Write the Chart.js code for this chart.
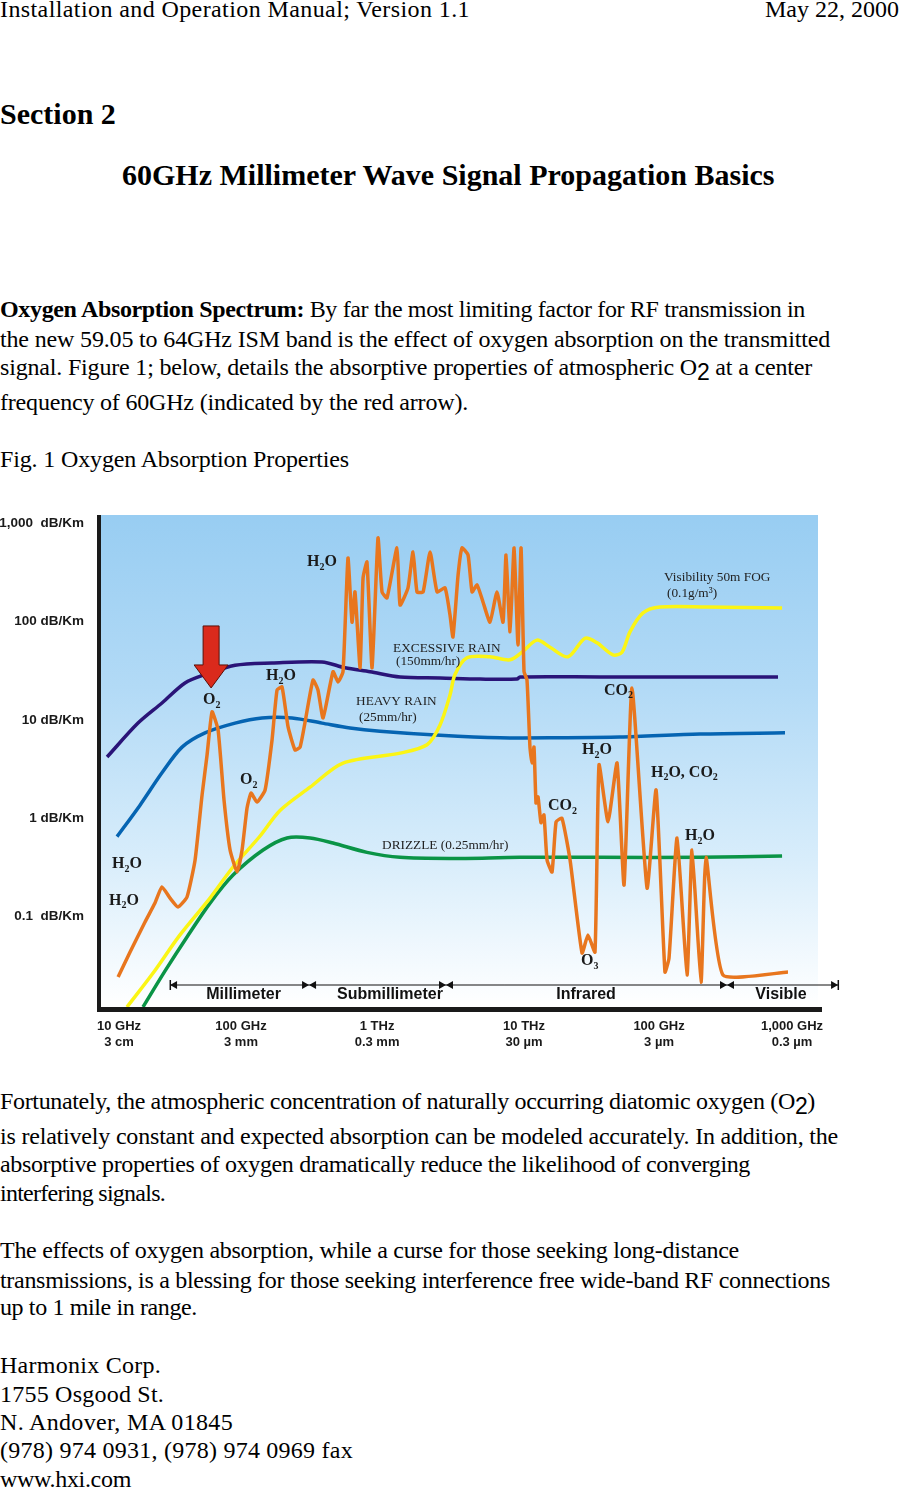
<!DOCTYPE html>
<html>
<head>
<meta charset="utf-8">
<title>60GHz Millimeter Wave Signal Propagation Basics</title>
<script src="https://cdn.jsdelivr.net/npm/chart.js@4.4.1/dist/chart.umd.min.js"></script>
<style>
  body { margin: 0; width: 899px; height: 1489px; position: relative; overflow: hidden;
         background: #fff; color: #000; font-family: "Liberation Serif", "Times New Roman", serif; }
  .ln { position: absolute; left: 0; font-size: 24px; line-height: 24px; white-space: nowrap; }
  .big { font-size: 30px; line-height: 30px; font-weight: bold; }
  .s2 { position: relative; top: 5px; font-family: "Liberation Sans", Arial, sans-serif; font-size: 23px; }
  #chartBox { position: absolute; left: 0; top: 505px; width: 899px; height: 560px; }
</style>
</head>
<body>

<div class="ln" data-w="470" style="top:-3px">Installation and Operation Manual; Version 1.1</div>
<div class="ln" style="top:-3px; left:auto; right:0">May 22, 2000</div>

<div class="ln big" style="top:99px">Section 2</div>
<div class="ln big" style="top:160px; left:122px">60GHz Millimeter Wave Signal Propagation Basics</div>

<div class="ln" data-w="805" style="top:297px"><b>Oxygen Absorption Spectrum:</b> By far the most limiting factor for RF transmission in</div>
<div class="ln" data-w="830" style="top:327px">the new 59.05 to 64GHz ISM band is the effect of oxygen absorption on the transmitted</div>
<div class="ln" data-w="812" style="top:355px">signal. Figure 1; below, details the absorptive properties of atmospheric O<span class="s2">2</span> at a center</div>
<div class="ln" data-w="468" style="top:390px">frequency of 60GHz (indicated by the red arrow).</div>
<div class="ln" data-w="349" style="top:447px">Fig. 1 Oxygen Absorption Properties</div>

<div id="chartBox"><canvas id="absChart" width="899" height="560"></canvas></div>

<div class="ln" data-w="815" style="top:1089px">Fortunately, the atmospheric concentration of naturally occurring diatomic oxygen (O<span class="s2">2</span>)</div>
<div class="ln" data-w="838" style="top:1124px">is relatively constant and expected absorption can be modeled accurately. In addition, the</div>
<div class="ln" data-w="750" style="top:1152px">absorptive properties of oxygen dramatically reduce the likelihood of converging</div>
<div class="ln" data-w="165" style="top:1181px">interfering signals.</div>
<div class="ln" data-w="739" style="top:1238px">The effects of oxygen absorption, while a curse for those seeking long-distance</div>
<div class="ln" data-w="830" style="top:1268px">transmissions, is a blessing for those seeking interference free wide-band RF connections</div>
<div class="ln" data-w="197" style="top:1295px">up to 1 mile in range.</div>
<div class="ln" data-w="161" style="top:1353px">Harmonix Corp.</div>
<div class="ln" data-w="164" style="top:1382px">1755 Osgood St.</div>
<div class="ln" data-w="233" style="top:1410px">N. Andover, MA 01845</div>
<div class="ln" data-w="353" style="top:1438px">(978) 974 0931, (978) 974 0969 fax</div>
<div class="ln" data-w="131" style="top:1467px">www.hxi.com</div>

<script>
/* stretch or squeeze each text line to the width it has on the page */
document.querySelectorAll('.ln[data-w]').forEach(el => {
    const w = el.getBoundingClientRect().width;
    const n = el.textContent.length;
    el.style.letterSpacing = ((+el.dataset.w - w) / n) + 'px';
});

/* Axis ticks. x is in "decades" along the band axis, 10 GHz = 1 */
const xTicks = [1, 1.906, 2.917, 4.009, 5.012, 6];
const xTickLabels = [
    ['10 GHz', '3 cm'],
    ['100 GHz', '3 mm'],
    ['1 THz', '0.3 mm'],
    ['10 THz', '30 \u00b5m'],
    ['100 GHz', '3 \u00b5m'],
    ['1,000 GHz', '0.3 \u00b5m']
];
const yTicks = [0.1, 1, 10, 100, 1000];
const yTickLabels = ['0.1  dB/Km', '1 dB/Km', '10 dB/Km', '100 dB/Km', '1,000  dB/Km'];

/* Bands along the bottom */
const bandEdges = [1.379, 2.412, 3.429, 5.517, 6.342];
const bandNames = ['Millimeter', 'Submillimeter', 'Infrared', 'Visible'];
const bandLabelX = [1.925, 3.013, 4.470, 5.918];

/* Attenuation curves, [x, dB/Km] */
const excessiveRain = [
    [0.911, 4.2], [1.141, 9.3], [1.319, 14.9], [1.490, 23.8], [1.639, 29], [1.862, 36],
    [2.137, 38], [2.508, 39], [2.679, 34], [2.865, 31], [3.088, 27.4], [3.385, 26.8],
    [3.682, 26.1], [3.957, 26.1], [3.979, 27.4], [4.573, 27.4], [5.316, 27.4], [5.896, 27.4]
];
const heavyRain = [
    [0.985, 0.65], [1.156, 1.36], [1.319, 2.9], [1.468, 5.3], [1.639, 7.4], [1.862, 9.3],
    [2.062, 10.5], [2.285, 10.5], [2.508, 9.3], [2.716, 8.3], [2.939, 7.7], [3.385, 7.0],
    [3.831, 6.6], [4.276, 6.6], [4.722, 6.7], [5.316, 7.2], [5.948, 7.4]
];
const drizzle = [
    [1.178, 0.012], [1.342, 0.028], [1.505, 0.062], [1.676, 0.137], [1.847, 0.264],
    [2.070, 0.475], [2.248, 0.63], [2.419, 0.63], [2.590, 0.56], [2.842, 0.45],
    [3.088, 0.40], [3.459, 0.39], [3.979, 0.40], [4.573, 0.40], [5.316, 0.40], [5.926, 0.413]
];
const fog = [
    [1.059, 0.012], [1.253, 0.0266], [1.453, 0.065], [1.676, 0.154], [1.847, 0.319],
    [2.048, 0.66], [2.196, 1.2], [2.419, 2.07], [2.664, 3.65], [3.088, 4.6], [3.288, 5.6],
    [3.385, 8.9], [3.459, 18], [3.496, 29], [3.585, 43], [3.756, 44], [3.905, 41],
    [4.001, 50], [4.105, 65], [4.202, 55], [4.336, 44], [4.462, 68], [4.551, 61],
    [4.670, 46], [4.737, 49], [4.796, 79], [4.893, 123], [5.019, 141], [5.368, 141], [5.926, 138]
];
const atmosphere = [
    [0.993, 0.0242], [1.082, 0.0435], [1.193, 0.088], [1.267, 0.137], [1.319, 0.20],
    [1.379, 0.154], [1.438, 0.125], [1.505, 0.158], [1.565, 0.376], [1.617, 1.73],
    [1.654, 4.4], [1.691, 12.1], [1.736, 7.9], [1.780, 1.53], [1.825, 0.475], [1.877, 0.284],
    [1.914, 0.475], [1.951, 1.27], [1.981, 1.81], [2.025, 1.46], [2.085, 1.94], [2.137, 6.3],
    [2.174, 20.2], [2.211, 21.7], [2.256, 8.5], [2.308, 4.95], [2.345, 5.3], [2.382, 9.5],
    [2.441, 25.5], [2.478, 20.2], [2.516, 10.5], [2.590, 31], [2.627, 24.4], [2.664, 31],
    [2.701, 445], [2.731, 99], [2.753, 201], [2.791, 34], [2.813, 279], [2.842, 405],
    [2.880, 34], [2.924, 711], [2.954, 201], [2.991, 175], [3.065, 564], [3.088, 148],
    [3.147, 221], [3.184, 513], [3.214, 201], [3.259, 201], [3.311, 513], [3.363, 201],
    [3.422, 221], [3.459, 117], [3.481, 70], [3.519, 299], [3.548, 564], [3.593, 478],
    [3.623, 201], [3.660, 237], [3.704, 159], [3.756, 99], [3.808, 201], [3.853, 99],
    [3.875, 478], [3.905, 79], [3.935, 564], [3.964, 58], [3.987, 564], [4.009, 31],
    [4.031, 25.5], [4.053, 5.3], [4.068, 3.65], [4.083, 5.3], [4.098, 1.43], [4.113, 1.65],
    [4.135, 0.90], [4.157, 1.08], [4.180, 0.376], [4.217, 0.284], [4.247, 0.92], [4.291, 1.0],
    [4.351, 0.376], [4.440, 0.0425], [4.484, 0.065], [4.536, 0.0435], [4.566, 3.5],
    [4.633, 0.92], [4.700, 3.65], [4.752, 0.209], [4.811, 21.2], [4.923, 0.195], [4.990, 1.94],
    [5.056, 0.0272], [5.086, 0.0378], [5.146, 0.63], [5.220, 0.0254], [5.257, 0.475],
    [5.324, 0.0215], [5.361, 0.40], [5.487, 0.0254], [5.970, 0.0272]
];

/* Text on the plot: [text, x, dB/Km]; "_2" is a subscript */
const chemLabels = [
    ['H_2O', 2.397, 405], ['O_2', 1.624, 16], ['H_2O', 2.092, 28], ['CO_2', 4.603, 20],
    ['H_2O', 4.440, 4.95], ['H_2O, CO_2', 4.952, 2.9], ['O_2', 1.899, 2.45], ['CO_2', 4.187, 1.33],
    ['H_2O', 5.205, 0.66], ['H_2O', 0.948, 0.34], ['H_2O', 0.926, 0.145], ['O_3', 4.432, 0.035]
];
const curveLabels = [
    ['EXCESSIVE RAIN', 3.036, 54], ['(150mm/hr)', 3.058, 39],
    ['HEAVY RAIN', 2.761, 15.3], ['(25mm/hr)', 2.783, 10.7],
    ['Visibility 50m FOG', 5.049, 285], ['(0.1g/m\u00b3)', 5.071, 196],
    ['DRIZZLE (0.25mm/hr)', 2.954, 0.53]
];
const arrowAt = [1.684, 21.2]; // 60 GHz

const toPts = arr => arr.map(p => ({ x: p[0], y: p[1] }));

function lineSet(label, pts, color, tension) {
    return {
        label: label,
        data: toPts(pts),
        borderColor: color,
        borderWidth: 3.5,
        pointRadius: 0,
        tension: tension,
        fill: false
    };
}

/* sky gradient behind the curves */
const skyPlugin = {
    id: 'sky',
    beforeDatasetsDraw(chart) {
        const { ctx, chartArea: a } = chart;
        const g = ctx.createLinearGradient(0, a.top, 0, a.bottom);
        g.addColorStop(0, '#98cdf2');
        g.addColorStop(0.35, '#b2daf6');
        g.addColorStop(0.7, '#d8edfb');
        g.addColorStop(1, '#ffffff');
        ctx.save();
        ctx.fillStyle = g;
        ctx.fillRect(a.left, a.top, a.right - a.left, a.bottom - a.top);
        ctx.restore();
    }
};

function drawChem(ctx, text, x, y) {
    let cx = x;
    for (let i = 0; i < text.length; i++) {
        if (text[i] === '_') {
            ctx.font = 'bold 10px "Liberation Serif"';
            ctx.fillText(text[i + 1], cx, y + 5);
            cx += ctx.measureText(text[i + 1]).width;
            i++;
        } else {
            ctx.font = 'bold 16px "Liberation Serif"';
            ctx.fillText(text[i], cx, y);
            cx += ctx.measureText(text[i]).width;
        }
    }
}

const overlayPlugin = {
    id: 'overlay',
    afterDatasetsDraw(chart) {
        const { ctx, chartArea: a, scales: { x, y } } = chart;
        ctx.save();

        // band row
        const ly = a.bottom - 22;
        const ex = bandEdges.map(v => x.getPixelForValue(v));
        ctx.strokeStyle = '#111';
        ctx.fillStyle = '#111';
        ctx.lineWidth = 1;
        ctx.beginPath();
        ctx.moveTo(ex[0], ly);
        ctx.lineTo(ex[ex.length - 1], ly);
        ctx.stroke();
        const tri = (tipX, dir) => {
            ctx.beginPath();
            ctx.moveTo(tipX, ly);
            ctx.lineTo(tipX + dir * 7, ly - 4);
            ctx.lineTo(tipX + dir * 7, ly + 4);
            ctx.closePath();
            ctx.fill();
        };
        ex.forEach((px, i) => {
            if (i > 0) tri(px, -1);
            if (i < ex.length - 1) tri(px, 1);
            if (i === 0 || i === ex.length - 1) ctx.fillRect(px - 0.5, ly - 5, 1.5, 10);
        });
        ctx.font = 'bold 16px "Liberation Sans"';
        ctx.textAlign = 'center';
        ctx.textBaseline = 'middle';
        bandNames.forEach((n, i) => ctx.fillText(n, x.getPixelForValue(bandLabelX[i]), a.bottom - 12));

        // axis bars
        ctx.fillStyle = '#1a1a1a';
        ctx.fillRect(a.left - 4, a.top, 4, a.bottom - a.top + 5);
        ctx.fillRect(a.left - 4, a.bottom, a.right - a.left + 8, 5);

        // red arrow at 60 GHz
        const tx = x.getPixelForValue(arrowAt[0]);
        const ty = y.getPixelForValue(arrowAt[1]);
        ctx.beginPath();
        ctx.moveTo(tx, ty);
        ctx.lineTo(tx - 17, ty - 23);
        ctx.lineTo(tx - 8, ty - 23);
        ctx.lineTo(tx - 8, ty - 62);
        ctx.lineTo(tx + 8, ty - 62);
        ctx.lineTo(tx + 8, ty - 23);
        ctx.lineTo(tx + 17, ty - 23);
        ctx.closePath();
        ctx.fillStyle = '#da2a1c';
        ctx.fill();
        ctx.strokeStyle = '#5a1008';
        ctx.lineWidth = 1;
        ctx.stroke();

        // labels
        ctx.textAlign = 'left';
        ctx.textBaseline = 'middle';
        ctx.fillStyle = '#1a1a1a';
        chemLabels.forEach(l => drawChem(ctx, l[0], x.getPixelForValue(l[1]), y.getPixelForValue(l[2])));
        ctx.font = '13.3px "Liberation Serif"';
        ctx.fillStyle = '#222';
        curveLabels.forEach(l => ctx.fillText(l[0], x.getPixelForValue(l[1]), y.getPixelForValue(l[2])));

        ctx.restore();
    }
};

const config = {
    type: 'line',
    data: {
        datasets: [
            lineSet('Atmosphere', atmosphere, '#e8761e', 0.15),
            lineSet('Fog', fog, '#fbf515', 0.3),
            lineSet('Excessive rain', excessiveRain, '#2a1478', 0.3),
            lineSet('Heavy rain', heavyRain, '#0564b2', 0.3),
            lineSet('Drizzle', drizzle, '#0a9446', 0.3)
        ]
    },
    options: {
        responsive: false,
        animation: false,
        layout: { padding: { top: 10, right: 81, left: 0, bottom: 0 } },
        plugins: { legend: { display: false }, tooltip: { enabled: false } },
        scales: {
            x: {
                type: 'linear',
                min: 0.866,
                max: 6.193,
                grid: { display: false, drawTicks: false },
                border: { display: false },
                afterFit: s => { s.height = 58; s.paddingLeft = 0; s.paddingRight = 0; },
                afterBuildTicks: s => { s.ticks = xTicks.map(v => ({ value: v })); },
                ticks: {
                    autoSkip: false,
                    maxRotation: 0,
                    padding: 12,
                    color: '#1a1a1a',
                    font: { family: 'Liberation Sans', size: 13, weight: 'bold', lineHeight: 1.2 },
                    callback: (v, i) => xTickLabels[i]
                }
            },
            y: {
                type: 'logarithmic',
                min: 0.012,
                max: 1220,
                grid: { display: false, drawTicks: false },
                border: { display: false },
                afterFit: s => { s.width = 101; s.paddingTop = 0; s.paddingBottom = 0; },
                afterBuildTicks: s => { s.ticks = yTicks.map(v => ({ value: v })); },
                ticks: {
                    padding: 17,
                    color: '#1a1a1a',
                    font: { family: 'Liberation Sans', size: 13.5, weight: 'bold' },
                    callback: (v, i) => yTickLabels[i]
                }
            }
        }
    },
    plugins: [skyPlugin, overlayPlugin]
};

new Chart(document.getElementById('absChart'), config);
</script>
</body>
</html>
